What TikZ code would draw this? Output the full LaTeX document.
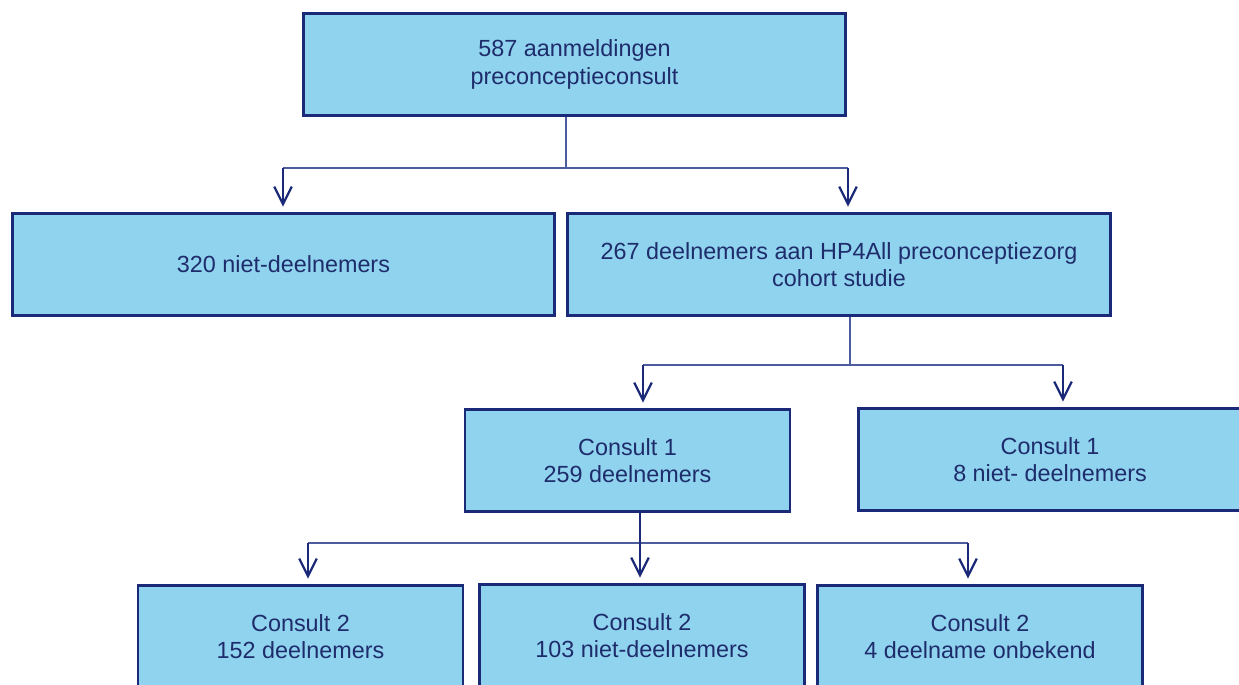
\documentclass[tikz,border=0pt]{standalone}
\usepackage{fontspec}
\setmainfont{Liberation Sans}
\usetikzlibrary{arrows.meta}
\definecolor{boxfill}{HTML}{8FD3EE}
\definecolor{boxline}{HTML}{1B2A78}
\definecolor{boxtext}{HTML}{1F2C6B}
\definecolor{connline}{HTML}{4D5C9C}

\begin{document}
\begin{tikzpicture}[x=0.02cm, y=-0.02cm,
  every node/.style={rectangle, draw=boxline, fill=boxfill, line width=1.5pt, text=boxtext,
    align=center, font=\fontsize{13.3}{15.6}\selectfont, minimum height=2.05cm, inner sep=0pt},
  wide/.style={minimum width=10.85cm},
  small/.style={minimum width=6.5cm},
  conn/.style={draw=connline, line width=0.9pt},
  arr/.style={draw=boxline, line width=1.3pt, shorten >=3pt, -{Straight Barb[length=10pt, width=10pt, line width=1.3pt]}}]
  \useasboundingbox (0,0) rectangle (1239,684);
  \node[wide] (top) at (574.5, 64.5) {587 aanmeldingen\\preconceptieconsult};
  \node[wide] (nd) at (283.5, 264.5) {320 niet-deelnemers};
  \node[wide] (dn) at (839, 264.5) {267 deelnemers aan HP4All preconceptiezorg\\cohort studie};
  \node[small] (c1d) at (627.5, 460.5) {Consult 1\\259 deelnemers};
  \node[minimum width=7.65cm] (c1n) at (1050, 459.5) {Consult 1\\8 niet- deelnemers};
  \node[small] (c2d) at (300.5, 636.5) {Consult 2\\152 deelnemers};
  \node[small] (c2n) at (642, 635.5) {Consult 2\\103 niet-deelnemers};
  \node[small] (c2o) at (980, 636.5) {Consult 2\\4 deelname onbekend};
  \coordinate (s1) at (566, 168);
  \coordinate (l1) at (283, 168);
  \coordinate (r1) at (848, 168);
  \coordinate (s2) at (850, 365);
  \coordinate (l2) at (643, 365);
  \coordinate (r2) at (1063, 365);
  \coordinate (s3) at (640, 543);
  \coordinate (l3) at (308, 543);
  \coordinate (r3) at (968, 543);
  \draw[conn] (top.south -| s1) -- (s1);
  \draw[conn] (l1) -- (r1);
  \draw[arr] (l1) -- (l1 |- nd.north);
  \draw[arr] (r1) -- (r1 |- dn.north);
  \draw[conn] (dn.south -| s2) -- (s2);
  \draw[conn] (l2) -- (r2);
  \draw[arr] (l2) -- (l2 |- c1d.north);
  \draw[arr] (r2) -- (r2 |- c1n.north);
  \draw[conn] (l3) -- (r3);
  \draw[arr] (c1d.south -| s3) -- (s3 |- c2n.north);
  \draw[arr] (l3) -- (l3 |- c2d.north);
  \draw[arr] (r3) -- (r3 |- c2o.north);
\end{tikzpicture}
\end{document}
